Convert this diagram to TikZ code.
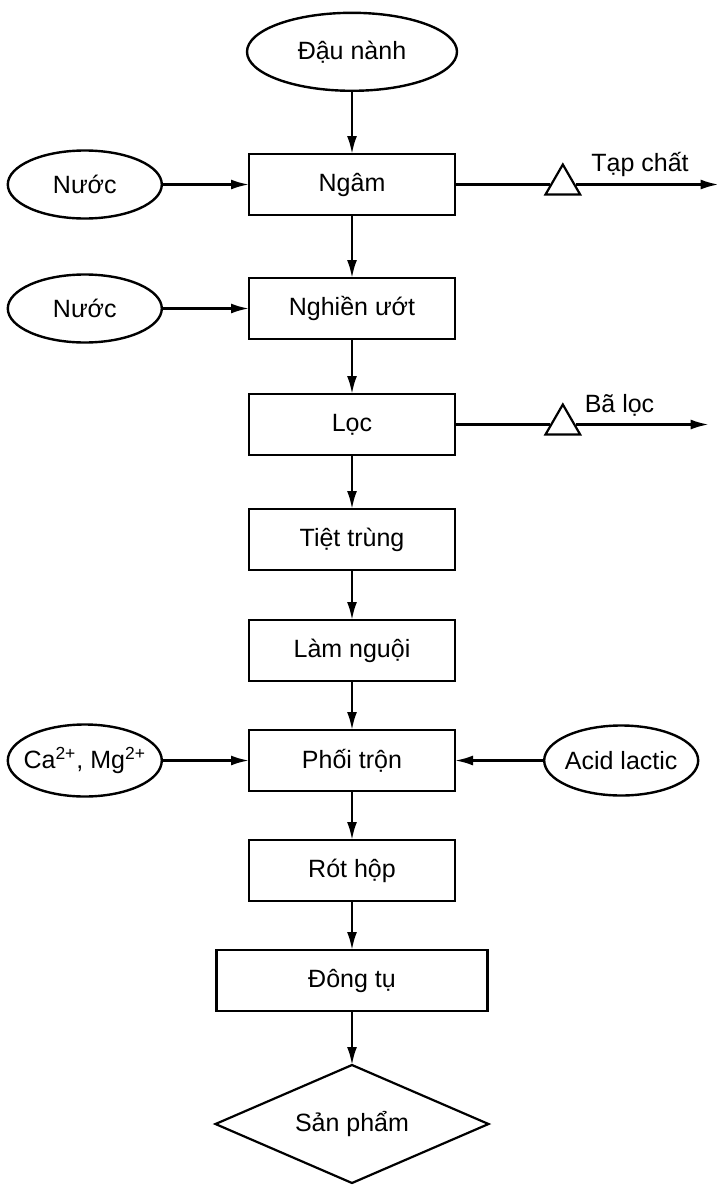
\documentclass[tikz,border=0pt]{standalone}
\usepackage{fontspec}
\setmainfont{Liberation Sans}
\usetikzlibrary{arrows.meta,positioning,shapes.geometric}

\begin{document}
\begin{tikzpicture}[x=0.5pt,y=0.5pt,node distance=26pt,>={Latex[length=9pt,width=5pt]},
font=\fontsize{12.5}{15}\selectfont,
block/.style={draw,line width=1.4pt,minimum width=103pt,minimum height=30.5pt,inner sep=0pt,outer sep=0pt},
feed/.style={draw,ellipse,line width=1.2pt,minimum width=77pt,minimum height=34pt,inner xsep=-4pt,inner ysep=0pt},
waste/.style={draw,regular polygon,regular polygon sides=3,minimum size=20pt,inner sep=0pt,line width=1.1pt},
product/.style={draw,diamond,aspect=2.31,line width=1.1pt,minimum width=136.5pt,minimum height=59pt,inner sep=0pt,outer sep=0pt},
arrow/.style={->,line width=1.2pt}]
\useasboundingbox (0,0) rectangle (717,-1189);
\node[block] (ng) at (352,-184.5) {Ngâm};
\node[block,below=31.5pt of ng] (nu) {Nghiền ướt};
\node[block,below=27.5pt of nu] (l) {Lọc};
\node[block,below=27pt of l] (tt) {Tiệt trùng};
\node[block,below=25pt of tt] (ln) {Làm nguội};
\node[block,below=24.5pt of ln] (pt) {Phối trộn};
\node[block,below=24.5pt of pt] (rh) {Rót hộp};
\node[block,below=24.5pt of rh,minimum width=135.5pt] (dt) {Đông tụ};
\node[product,below=27pt of dt] (sp) {Sản phẩm};
\node[feed,above=31pt of ng,minimum width=105pt,minimum height=39pt] (dn) {Đậu nành};
\node[feed,left=43pt of ng] (w1) {Nước};
\node[feed,left=43pt of nu] (w2) {Nước};
\node[feed,left=43pt of pt,minimum height=36pt] (ca) {Ca\textsuperscript{2+}, Mg\textsuperscript{2+}};
\node[feed,right=44pt of pt,minimum height=35pt] (al) {Acid lactic};
\node[waste,right=47.5pt of ng] (t1) {};
\node[waste,right=47.5pt of l] (t2) {};
\coordinate[right=71.5pt of t1] (e1);
\coordinate[right=66.5pt of t2] (e2);
\draw[arrow] (dn)--(ng); \draw[arrow] (ng)--(nu); \draw[arrow] (nu)--(l);
\draw[arrow] (l)--(tt); \draw[arrow] (tt)--(ln); \draw[arrow] (ln)--(pt);
\draw[arrow] (pt)--(rh); \draw[arrow] (rh)--(dt); \draw[arrow] (dt)--(sp);
\draw[arrow] (w1)--(ng); \draw[arrow] (w2)--(nu);
\draw[arrow] (ca)--(pt); \draw[arrow] (al)--(pt);
\draw[line width=1.2pt] (ng)--(t1); \draw[arrow] (t1)--node[above,pos=0.45]{Tạp chất}(e1);
\draw[line width=1.2pt] (l)--(t2); \draw[arrow] (t2)--node[above,pos=0.33]{Bã lọc}(e2);
\end{tikzpicture}
\end{document}
